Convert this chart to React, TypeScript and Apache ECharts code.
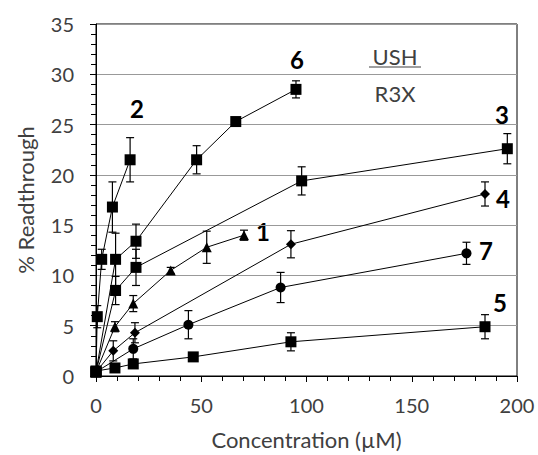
import React, { useEffect, useRef } from "react";
import * as echarts from "echarts";

// Concentration (µM), % readthrough, and error (±) for each compound
const s2X = [0, 0.6, 2.7, 7.8, 16.2];
const s2Y = [0.4, 5.9, 11.6, 16.8, 21.5];
const s2E = [0, 1.1, 1.0, 2.5, 2.2];

const s6X = [0, 9.3, 19, 47.8, 66.4, 95];
const s6Y = [0.4, 11.6, 13.4, 21.5, 25.3, 28.5];
const s6E = [0, 2.6, 1.7, 1.4, 0.2, 0.85];

const s3X = [0, 9.3, 19, 97.7, 195.4];
const s3Y = [0.4, 8.5, 10.8, 19.4, 22.6];
const s3E = [0, 1.4, 1.8, 1.4, 1.5];

const s1X = [0, 9, 17.7, 35.5, 52.6, 70.3];
const s1Y = [0.4, 4.9, 7.2, 10.5, 12.8, 14.0];
const s1E = [0, 0.5, 0.8, 0.3, 1.6, 0.5];

const s4X = [0, 8.2, 18.5, 92.6, 184.8];
const s4Y = [0.4, 2.5, 4.3, 13.1, 18.1];
const s4E = [0, 1.0, 1.0, 1.35, 1.2];

const s7X = [0, 17.7, 43.9, 87.7, 176];
const s7Y = [0.4, 2.7, 5.1, 8.8, 12.2];
const s7E = [0, 1.0, 1.4, 1.5, 1.1];

const s5X = [0, 9, 17.7, 46.2, 92.6, 184.8];
const s5Y = [0.5, 0.8, 1.2, 1.9, 3.4, 4.9];
const s5E = [0, 0.3, 0.3, 0.2, 0.9, 1.2];

const seriesDefs = [
  { name: "2", x: s2X, y: s2Y, e: s2E, symbol: "rect", size: 11 },
  { name: "6", x: s6X, y: s6Y, e: s6E, symbol: "rect", size: 11 },
  { name: "3", x: s3X, y: s3Y, e: s3E, symbol: "rect", size: 11 },
  { name: "1", x: s1X, y: s1Y, e: s1E, symbol: "triangle", size: 10 },
  { name: "4", x: s4X, y: s4Y, e: s4E, symbol: "diamond", size: 10 },
  { name: "7", x: s7X, y: s7Y, e: s7E, symbol: "circle", size: 10 },
  { name: "5", x: s5X, y: s5Y, e: s5E, symbol: "rect", size: 11 },
];

const FONT = "Lato, 'Open Sans', sans-serif";

export default function App() {
  const ref = useRef<HTMLDivElement>(null);
  useEffect(() => {
    if (!ref.current) return;
    const chart = echarts.init(ref.current, null, { renderer: "svg" });
    const lineSeries = seriesDefs.map((d) => ({
      name: d.name,
      type: "line",
      data: d.x.map((xv, i) => [xv, d.y[i]]),
      symbol: d.symbol,
      symbolSize: d.size,
      showAllSymbol: true,
      itemStyle: { color: "#000" },
      lineStyle: { color: "#000", width: 1 },
      z: 3,
    }));
    const errSeries = seriesDefs.map((d) => ({
      name: d.name + "-err",
      type: "custom",
      data: d.x.map((xv, i) => [xv, d.y[i], d.e[i]]),
      z: 2,
      renderItem: (params: any, api: any) => {
        const xv = api.value(0);
        const yv = api.value(1);
        const ev = api.value(2);
        if (!ev) return null;
        const top = api.coord([xv, yv + ev]);
        const bot = api.coord([xv, yv - ev]);
        const w = 4;
        const st = { stroke: "#000", lineWidth: 1.2 };
        return {
          type: "group",
          children: [
            { type: "line", shape: { x1: top[0], y1: top[1], x2: bot[0], y2: bot[1] }, style: st },
            { type: "line", shape: { x1: top[0] - w, y1: top[1], x2: top[0] + w, y2: top[1] }, style: st },
            { type: "line", shape: { x1: bot[0] - w, y1: bot[1], x2: bot[0] + w, y2: bot[1] }, style: st },
          ],
        };
      },
    }));
    const labelStyle = (text: string, x: number, y: number) => ({
      type: "text",
      x,
      y,
      style: {
        text,
        fill: "#000",
        fontSize: 24,
        fontWeight: "bold",
        fontFamily: FONT,
        align: "center",
        verticalAlign: "middle",
      },
    });
    chart.setOption({
      animation: false,
      grid: {
        left: 96,
        right: 21,
        top: 24,
        bottom: 76,
        show: true,
        borderColor: "#000",
        borderWidth: 1,
      },
      xAxis: {
        type: "value",
        min: 0,
        max: 200,
        interval: 50,
        name: "Concentration (µM)",
        nameLocation: "middle",
        nameGap: 52,
        nameTextStyle: { fontSize: 22, color: "#404040", fontFamily: FONT },
        axisLine: { show: true, lineStyle: { color: "#000", width: 1 } },
        axisTick: { show: true, inside: false, length: 6, lineStyle: { color: "#000" } },
        minorTick: { show: true, splitNumber: 5, length: 5, lineStyle: { color: "#000" } },
        splitLine: { show: false },
        axisLabel: { fontSize: 20, color: "#404040", margin: 19, fontFamily: FONT },
      },
      yAxis: {
        type: "value",
        min: 0,
        max: 35,
        interval: 5,
        name: "% Readthrough",
        nameLocation: "middle",
        nameGap: 60,
        nameTextStyle: { fontSize: 22, color: "#404040", fontFamily: FONT },
        axisLine: { show: true, lineStyle: { color: "#000", width: 1 } },
        axisTick: { show: true, inside: false, length: 6, lineStyle: { color: "#000" } },
        minorTick: { show: true, splitNumber: 5, length: 5, lineStyle: { color: "#000" } },
        splitLine: { show: true, lineStyle: { color: "#999", width: 1 } },
        axisLabel: { fontSize: 20, color: "#404040", margin: 22, fontFamily: FONT },
      },
      graphic: [
        labelStyle("2", 137, 108),
        labelStyle("6", 297, 59),
        labelStyle("3", 502, 114),
        labelStyle("1", 263, 231),
        labelStyle("4", 503, 198),
        labelStyle("7", 486, 250),
        labelStyle("5", 500, 302),
        {
          type: "text",
          x: 395,
          y: 56,
          style: {
            text: "USH",
            fill: "#404040",
            fontSize: 22,
            fontFamily: FONT,
            align: "center",
            verticalAlign: "middle",
          },
        },
        {
          type: "line",
          shape: { x1: 369, y1: 67, x2: 421, y2: 67 },
          style: { stroke: "#404040", lineWidth: 1.2 },
        },
        {
          type: "text",
          x: 395,
          y: 93,
          style: {
            text: "R3X",
            fill: "#404040",
            fontSize: 22,
            fontFamily: FONT,
            align: "center",
            verticalAlign: "middle",
          },
        },
      ],
      series: [...errSeries, ...lineSeries],
    });
    return () => chart.dispose();
  }, []);
  return (
    <div
      ref={ref}
      style={{ position: "fixed", left: 0, top: 0, width: 538, height: 455, background: "#fff" }}
    />
  );
}
